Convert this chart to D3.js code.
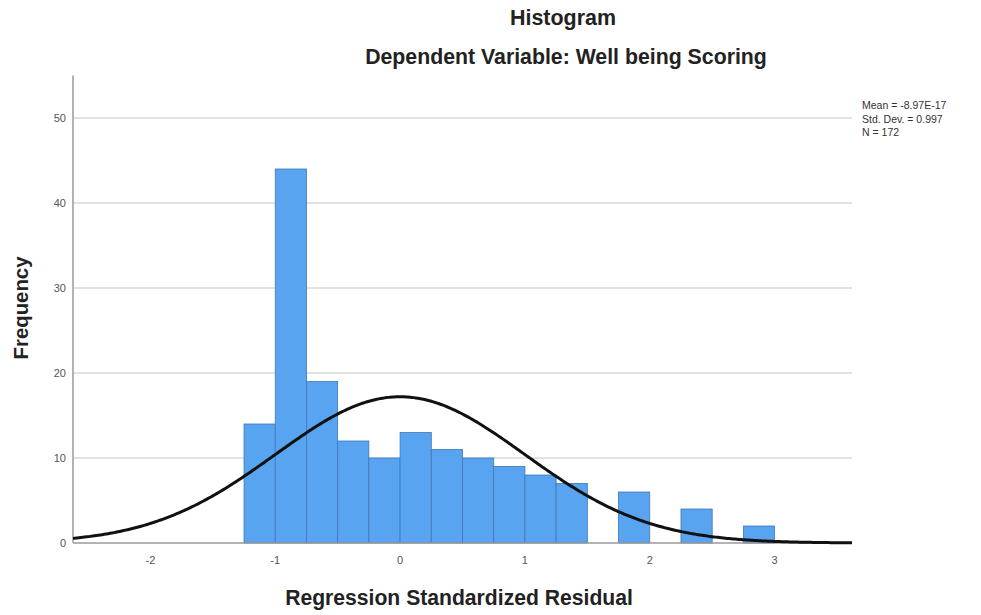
<!DOCTYPE html>
<html><head><meta charset="utf-8">
<script src="https://cdn.jsdelivr.net/npm/d3@7"></script>
<style>body{margin:0;background:#fff}svg{display:block}text{font-family:"Liberation Sans",Arial,sans-serif}</style>
</head><body><svg id="c" width="981" height="615"></svg>
<script>
const binStarts = [-1.25,-1.0,-0.75,-0.5,-0.25,0,0.25,0.5,0.75,1.0,1.25,1.75,2.25,2.75];
const counts    = [14,44,19,12,10,13,11,10,9,8,7,6,4,2];
const binWidth = 0.25;
const xTicks = [-2,-1,0,1,2,3];
const yTicks = [0,10,20,30,40,50];
const statMean = -8.97e-17, statSD = 0.997, statN = 172;
const legendLines = ["Mean = -8.97E-17","Std. Dev. = 0.997","N = 172"];

const svg = d3.select("#c");
const x = d3.scaleLinear().domain([-2.62,3.62]).range([73,852]);
const y = d3.scaleLinear().domain([0,55]).range([543,75.5]);

function fitText(sel, target){
  const n = sel.node(); let fs = parseFloat(sel.attr("font-size"));
  const w = n.getComputedTextLength(); sel.attr("font-size", fs*target/w);
}

// gridlines
svg.append("g").selectAll("line").data(yTicks.filter(d=>d>0)).join("line")
  .attr("x1",73).attr("x2",852).attr("y1",d=>y(d)).attr("y2",d=>y(d))
  .attr("stroke","#d9d9d9").attr("stroke-width",1.5);

// bars
svg.append("g").selectAll("rect").data(binStarts.map((s,i)=>({s,c:counts[i]}))).join("rect")
  .attr("x",d=>x(d.s)).attr("width",d=>x(d.s+binWidth)-x(d.s))
  .attr("y",d=>y(d.c)).attr("height",d=>y(0)-y(d.c))
  .attr("fill","#58a4f0").attr("stroke","#3f77b8").attr("stroke-width",0.8);

// axes lines
svg.append("line").attr("x1",73).attr("x2",852).attr("y1",y(0)).attr("y2",y(0)).attr("stroke","#9a9a9a").attr("stroke-width",1.5);
svg.append("line").attr("x1",73).attr("x2",73).attr("y1",y(55)).attr("y2",y(0)).attr("stroke","#9a9a9a").attr("stroke-width",1.5);

// normal curve
const pts = d3.range(0,401).map(i=>-2.62+i*(6.24/400));
const dens = v => statN*binWidth/(statSD*Math.sqrt(2*Math.PI))*Math.exp(-0.5*((v-statMean)/statSD)**2);
svg.append("path").datum(pts).attr("fill","none").attr("stroke","#111").attr("stroke-width",3)
  .attr("d", d3.line().x(d=>x(d)).y(d=>y(dens(d))));

// tick labels
svg.append("g").selectAll("text").data(yTicks).join("text")
  .attr("x",66).attr("y",d=>y(d)+4).attr("text-anchor","end").attr("font-size",11).attr("fill","#555").text(d=>d);
svg.append("g").selectAll("text").data(xTicks).join("text")
  .attr("x",d=>x(d)).attr("y",564).attr("text-anchor","middle").attr("font-size",11).attr("fill","#555").text(d=>d);

// titles
const t1 = svg.append("text").attr("x",563).attr("y",25).attr("text-anchor","middle").attr("font-weight","bold").attr("font-size",16).attr("fill","#222").text("Histogram");
fitText(t1,106);
const t2 = svg.append("text").attr("x",566).attr("y",64).attr("text-anchor","middle").attr("font-weight","bold").attr("font-size",16).attr("fill","#222").text("Dependent Variable: Well being Scoring");
fitText(t2,402);
const xl = svg.append("text").attr("x",459).attr("y",605).attr("text-anchor","middle").attr("font-weight","bold").attr("font-size",16).attr("fill","#222").text("Regression Standardized Residual");
fitText(xl,348);
const yl = svg.append("text").attr("transform","translate(28,308) rotate(-90)").attr("text-anchor","middle").attr("font-weight","bold").attr("font-size",16).attr("fill","#222").text("Frequency");
fitText(yl,103);

// legend
svg.append("g").selectAll("text").data(legendLines).join("text")
  .attr("x",862).attr("y",(d,i)=>109+i*13.5).attr("font-size",10.5).attr("fill","#333").text(d=>d);
</script></body></html>
